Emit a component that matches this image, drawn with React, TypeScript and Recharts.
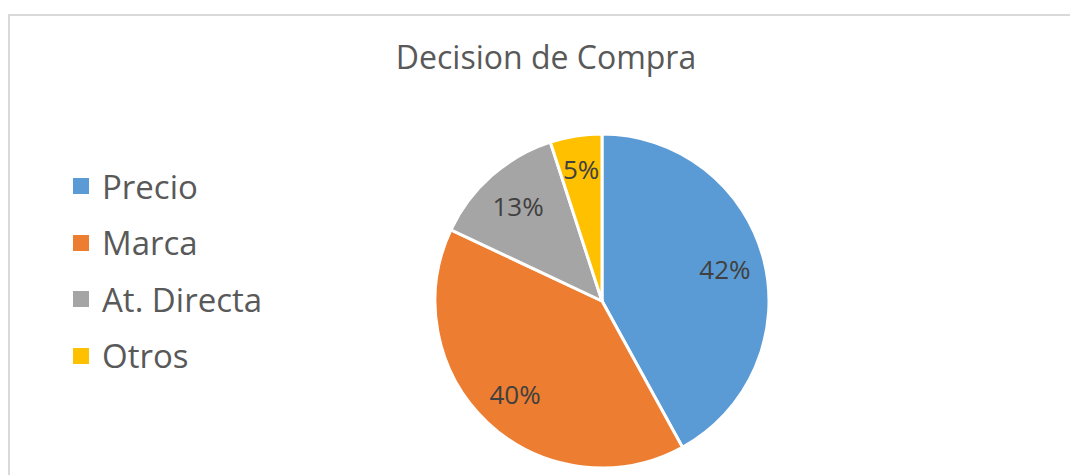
import { PieChart, Pie, Cell } from 'recharts';

const categories = ['Precio', 'Marca', 'At. Directa', 'Otros'];
const shares = [42, 40, 13, 5];
const colors = ['#5B9BD5', '#ED7D31', '#A5A5A5', '#FFC000'];

const data = categories.map((name, i) => ({ name, value: shares[i] }));

const RADIAN = Math.PI / 180;

const renderLabel = (props: any) => {
  const { cx, cy, midAngle, outerRadius, percent } = props;
  // small slices sit a bit further out, like Excel's best fit
  const r = outerRadius * (percent < 0.1 ? 0.8 : 0.76);
  const x = cx + r * Math.cos(-midAngle * RADIAN);
  const y = cy + r * Math.sin(-midAngle * RADIAN);
  return (
    <text
      x={x}
      y={y}
      fill="#404040"
      textAnchor="middle"
      dominantBaseline="central"
      style={{ fontSize: '26px', fontFamily: 'Open Sans' }}
    >
      {`${Math.round(percent * 100)}%`}
    </text>
  );
};

export default function App() {
  return (
    <div style={{ position: 'absolute', left: 0, top: 0, width: 1070, height: 475, background: '#fff', overflow: 'hidden' }}>
      <div style={{ position: 'absolute', left: 8, top: 14, width: 1100, height: 500, border: '2px solid #d9d9d9', boxSizing: 'border-box' }} />
      <div style={{ position: 'absolute', left: 0, top: 36, width: 1092, textAlign: 'center', fontFamily: 'Open Sans', fontSize: '32px', color: '#595959', lineHeight: '42px' }}>
        Decision de Compra
      </div>
      <div style={{ position: 'absolute', left: 73, top: 158 }}>
        {categories.map((name, i) => (
          <div key={name} style={{ display: 'flex', alignItems: 'center', height: 56.5 }}>
            <span style={{ width: 16, height: 16, background: colors[i], display: 'inline-block', marginRight: 13 }} />
            <span style={{ fontSize: '33px', color: '#595959', fontFamily: 'Open Sans', lineHeight: 1 }}>{name}</span>
          </div>
        ))}
      </div>
      <div style={{ position: 'absolute', left: 0, top: 0 }}>
        <PieChart width={1070} height={475} margin={{ top: 0, right: 0, bottom: 0, left: 0 }}>
          <Pie
            data={data}
            dataKey="value"
            nameKey="name"
            cx={602}
            cy={301}
            outerRadius={167}
            startAngle={90}
            endAngle={-270}
            stroke="#ffffff"
            strokeWidth={3}
            label={renderLabel}
            labelLine={false}
            isAnimationActive={false}
          >
            {data.map((entry, index) => (
              <Cell key={`cell-${index}`} fill={colors[index]} />
            ))}
          </Pie>
        </PieChart>
      </div>
    </div>
  );
}
